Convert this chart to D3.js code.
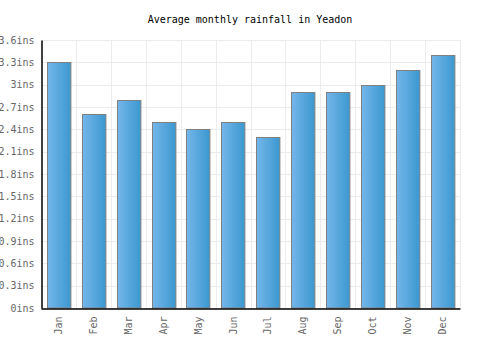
<!DOCTYPE html>
<html>
<head>
<meta charset="utf-8">
<script src="https://cdn.jsdelivr.net/npm/d3@7"></script>
<style>
  body { margin: 0; background: #fff; }
  text { font-family: "DejaVu Sans Mono", monospace; }
</style>
</head>
<body>
<div id="chart"></div>
<script>
const months = ["Jan", "Feb", "Mar", "Apr", "May", "Jun", "Jul", "Aug", "Sep", "Oct", "Nov", "Dec"];
const rainfall = [3.3, 2.6, 2.8, 2.5, 2.4, 2.5, 2.3, 2.9, 2.9, 3.0, 3.2, 3.4];
const yTicks = [0, 0.3, 0.6, 0.9, 1.2, 1.5, 1.8, 2.1, 2.4, 2.7, 3, 3.3, 3.6];
const title = "Average monthly rainfall in Yeadon";

const width = 500, height = 350;
const margin = {top: 40, right: 40, bottom: 42, left: 41};

const svg = d3.select("#chart")
              .append("svg")
                .attr("width", width)
                .attr("height", height);

// gradient for the bars
const grad = svg.append("defs").append("linearGradient")
                .attr("id", "barGrad")
                .attr("x1", "0%").attr("x2", "100%")
                .attr("y1", "0%").attr("y2", "0%");
grad.append("stop").attr("offset", "0%").attr("stop-color", "#74b6ea");
grad.append("stop").attr("offset", "100%").attr("stop-color", "#3b98cf");

const x = d3.scaleBand()
            .domain(months)
            .range([margin.left, width - margin.right])
            .paddingInner(0.33)
            .paddingOuter(0.165);

const y = d3.scaleLinear()
            .domain([0, 3.6])
            .range([height - margin.bottom, margin.top]);

const bandStep = (width - margin.right - margin.left) / months.length;

// grid lines
const grid = svg.append("g");
grid.selectAll("line.h")
    .data(yTicks)
    .join("line")
      .attr("x1", margin.left).attr("x2", width - margin.right)
      .attr("y1", d => Math.round(y(d)) + 0.5).attr("y2", d => Math.round(y(d)) + 0.5)
      .attr("stroke", "#ececec");
grid.selectAll("line.v")
    .data(d3.range(1, months.length + 1))
    .join("line")
      .attr("x1", i => Math.round(margin.left + i * bandStep) + 0.5)
      .attr("x2", i => Math.round(margin.left + i * bandStep) + 0.5)
      .attr("y1", margin.top).attr("y2", height - margin.bottom)
      .attr("stroke", "#ececec");

// bars
svg.append("g")
   .selectAll("rect")
   .data(rainfall)
   .join("rect")
     .attr("x", (d, i) => Math.round(x(months[i])) + 0.5)
     .attr("y", d => Math.round(y(d)) + 0.5)
     .attr("width", x.bandwidth())
     .attr("height", d => y(0) - Math.round(y(d)) - 0.5)
     .attr("fill", "url(#barGrad)")
     .attr("stroke", "#808080")
     .attr("stroke-width", 1);

// y axis
const yAxis = svg.append("g")
                 .attr("transform", `translate(${margin.left + 0.5},0)`)
                 .call(d3.axisLeft(y)
                         .tickValues(yTicks)
                         .tickSize(0)
                         .tickPadding(7)
                         .tickFormat(d => d3.format("~g")(d) + "ins"));
yAxis.select(".domain").attr("stroke", "#000").attr("stroke-width", 1.5);
yAxis.selectAll("text").attr("fill", "#666").style("font-size", "10px");

// x axis
const xAxis = svg.append("g")
                 .attr("transform", `translate(0,${height - margin.bottom + 0.5})`)
                 .call(d3.axisBottom(x).tickSize(0).tickPadding(8));
xAxis.select(".domain").attr("stroke", "#000").attr("stroke-width", 1.5);
xAxis.selectAll("text")
     .attr("fill", "#666")
     .style("font-size", "10px")
     .attr("transform", "rotate(-90)")
     .attr("text-anchor", "end")
     .attr("dy", "0.35em")
     .attr("y", 0)
     .attr("x", -8);

// title
svg.append("text")
   .attr("x", width / 2)
   .attr("y", 23)
   .attr("text-anchor", "middle")
   .style("font-size", "10px")
   .attr("fill", "#000")
   .text(title);
</script>
</body>
</html>
